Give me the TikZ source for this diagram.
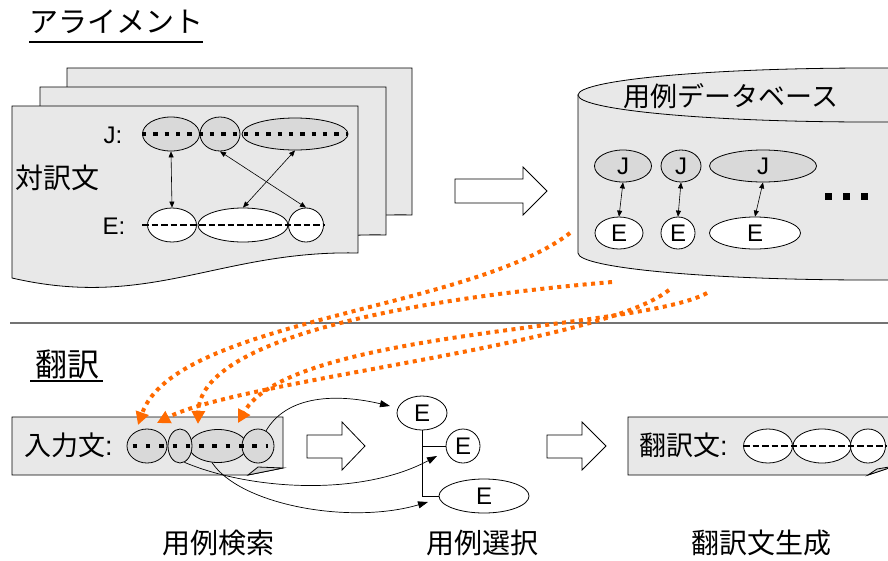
\documentclass[tikz,border=0pt]{standalone}
\usepackage{fontspec}
\setmainfont{Liberation Sans}
\newfontfamily\jp{Noto Sans CJK JP}
\usetikzlibrary{shapes.geometric,arrows.meta}
\definecolor{sheet}{HTML}{E8E8E8}
\definecolor{jfill}{HTML}{D9D9D9}
\definecolor{orng}{HTML}{FF6A00}
\tikzset{
  fs/.style={font=\fontsize{#1}{#1}\selectfont},
  jfs/.style={font=\fontsize{#1}{#1}\selectfont\jp},
  sz/.style 2 args={minimum width=#1pt, minimum height=#2pt},
  jell/.style={ellipse, draw, fill=jfill, inner sep=0pt, line width=0.8pt, fs=24},
  eell/.style={ellipse, draw, fill=white, inner sep=0pt, line width=0.8pt, fs=24},
  sheetbox/.style={draw, fill=sheet, line width=0.8pt},
  dbl/.style={{Triangle[length=6pt,width=5pt]}-{Triangle[length=6pt,width=5pt]}, line width=0.6pt},
  sqdots/.style={line width=4.3pt, dash pattern=on 4.3pt off 7pt},
  sqdotsb/.style={line width=4.5pt, dash pattern=on 4.5pt off 8.8pt},
  dashln/.style={line width=1.8pt, dash pattern=on 6.5pt off 3pt},
  orcurve/.style={orng, line width=4pt, dash pattern=on 4pt off 4.5pt, -{Triangle[length=13pt,width=13pt]}},
  blcurve/.style={line width=0.7pt, -{Triangle[length=10pt,width=7pt]}},
  hollow/.style={draw, fill=white, line width=0.8pt},
  title/.style={jfs=29, inner sep=0pt},
}
\begin{document}
\begin{tikzpicture}[x=1pt,y=-1pt]
\useasboundingbox (0,0) rectangle (888,560);

% titles
\node[title] (t1) at (116,22) {アライメント};
\draw[line width=1.6pt] (29,42) -- (203,42);
\node[jfs=32, inner sep=0pt] (t2) at (67,364) {翻訳};
\draw[line width=1.6pt] (30,381) -- (103,381);

% stacked sheets
\filldraw[sheetbox] (67,68) -- (412,68) -- (412,215) .. controls (290,212) and (220,257) .. (67,240) -- cycle;
\filldraw[sheetbox] (40,87) -- (386,87) -- (386,235) .. controls (270,232) and (190,277) .. (40,260) -- cycle;
\filldraw[sheetbox] (12,106) -- (358,106) -- (358,253) .. controls (220,250) and (150,310) .. (12,278) -- cycle;

\node[jfs=28, inner sep=0pt] (taiyaku) at (57,178) {対訳文};
\node[fs=24, inner sep=0pt] (jl) at (113,135) {J:};
\node[fs=24, inner sep=0pt] (el) at (114,226) {E:};

\node[jell, sz={57}{34}] (sj1) at (171,134) {};
\node[jell, sz={40}{34}] (sj2) at (220,134) {};
\node[jell, sz={106}{32}] (sj3) at (295,134) {};
\draw[sqdots] (sj1.west) -- (sj3.east);
\node[eell, sz={49}{34}] (se1) at (172,225) {};
\node[eell, sz={90}{34}] (se2) at (243,225) {};
\node[eell, sz={35}{34}] (se3) at (306,225) {};
\draw[dashln] ([xshift=-5pt]se1.west) -- ([xshift=1pt]se3.east);
\draw[dbl] (sj1.south) -- (se1.north);
\draw[dbl] (sj2.south) -- (se3.north);
\draw[dbl] (sj3.south) -- (se2.north);

% arrow 1
\draw[hollow] (455,179) -- (523,179) -- (523,167) -- (547,191) -- (523,215) -- (523,203) -- (455,203) -- cycle;

% database cylinder
\filldraw[sheetbox] (578,95) -- (578,253) .. controls (578,268) and (709,280) .. (870,280)
   .. controls (1031,280) and (1162,268) .. (1162,253) -- (1162,95) -- cycle;
\filldraw[sheetbox] (870,95) ellipse [x radius=292, y radius=27];
\node[jfs=27, inner sep=0pt] (dbt) at (731,96) {用例データベース};
\node[jell, sz={57}{32}] (dj1) at (623,166) {J};
\node[jell, sz={40}{32}] (dj2) at (681,166) {J};
\node[jell, sz={107}{32}] (dj3) at (763,166) {J};
\node[eell, sz={48}{32}] (de1) at (619,233) {E};
\node[eell, sz={34}{32}] (de2) at (678,233) {E};
\node[eell, sz={91}{32}] (de3) at (755,233) {E};
\draw[dbl] (dj1.south) -- (de1.north);
\draw[dbl] (dj2.south) -- (de2.north);
\draw[dbl] (dj3.south) -- (de3.north);
\fill (825,193) rectangle +(7,7);
\fill (843,193) rectangle +(7,7);
\fill (861,193) rectangle +(7,7);

% separator
\draw[line width=1.2pt, black!55] (10,323) -- (888,323);

% input box
\filldraw[sheetbox] (12,417) -- (283,417) -- (283,468) -- (248,475) -- (12,475) -- cycle;
\filldraw[draw, fill=black!18, line width=0.8pt] (248,475) -- (258,467) -- (283,468) -- cycle;
\node[fs=27, inner sep=0pt, anchor=west] (inlab) at (24,445) {{\jp 入力文}:};
\node[jell, sz={40}{34}] (ie1) at (147,446) {};
\node[jell, sz={58}{33}] (ie3) at (218,446) {};
\node[jell, sz={24}{34}] (ie2) at (180,446) {};
\node[jell, sz={32}{34}] (ie4) at (258,446) {};
\draw[sqdotsb] ([xshift=6pt]ie1.west) -- ([xshift=-6pt]ie4.east);

% arrow 2
\draw[hollow] (307,435) -- (342,435) -- (342,422) -- (365,446) -- (342,470) -- (342,458) -- (307,458) -- cycle;

% candidates
\node[eell, sz={50}{34}] (ce1) at (422,413) {E};
\node[eell, sz={34}{34}] (ce2) at (463,446) {E};
\node[eell, sz={90}{34}] (ce3) at (484,496) {E};
\draw[line width=0.8pt] (ce1.south) -- (ce1.south |- ce3.west) -- (ce3.west);
\draw[line width=0.8pt] (ce1.south |- ce2.west) -- (ce2.west);

\coordinate (k1) at (390,406);
\coordinate (k2) at (437,456);
\coordinate (k3) at (428,502);
\draw[blcurve] (ie4.62) .. controls (285,398) and (330,392) .. (k1);
\draw[blcurve] (ie2.-75) .. controls (250,490) and (360,497) .. (k2);
\draw[blcurve] (ie3.-110) .. controls (240,505) and (350,525) .. (k3);

% arrow 3
\draw[hollow] (547,435) -- (582,435) -- (582,422) -- (606,446) -- (582,470) -- (582,458) -- (547,458) -- cycle;

% output box
\filldraw[sheetbox] (628,417) -- (895,417) -- (895,466) -- (868,475) -- (628,475) -- cycle;
\filldraw[draw, fill=black!18, line width=0.8pt] (868,475) -- (877,469) -- (895,466) -- cycle;
\node[fs=27, inner sep=0pt, anchor=west] (outlab) at (639,445) {{\jp 翻訳文}:};
\node[eell, sz={49}{34}] (oe1) at (768,446) {};
\node[eell, sz={58}{34}] (oe2) at (822,446) {};
\node[eell, sz={35}{34}] (oe3) at (868,446) {};
\draw[dashln] (oe1.west) -- (oe3.east);

% orange retrieval curves
\coordinate (s1) at (570,233);
\coordinate (s2) at (612,282);
\coordinate (s3) at (669,290);
\coordinate (s4) at (707,293);
\coordinate (a1) at (138,425);
\coordinate (a2) at (157,423);
\coordinate (a3) at (198,424);
\coordinate (a4) at (238,423);
\draw[orcurve] (s1) .. controls (470,310) and (175,320) .. (a1);
\draw[orcurve] (s2) .. controls (400,300) and (200,340) .. (a3);
\draw[orcurve] (s3) .. controls (600,345) and (240,380) .. (a2);
\draw[orcurve] (s4) .. controls (640,330) and (290,330) .. (a4);

% step labels
\node[jfs=28, inner sep=0pt] (l1) at (218,543) {用例検索};
\node[jfs=28, inner sep=0pt] (l2) at (482,543) {用例選択};
\node[jfs=28, inner sep=0pt] (l3) at (761,543) {翻訳文生成};
\end{tikzpicture}
\end{document}
